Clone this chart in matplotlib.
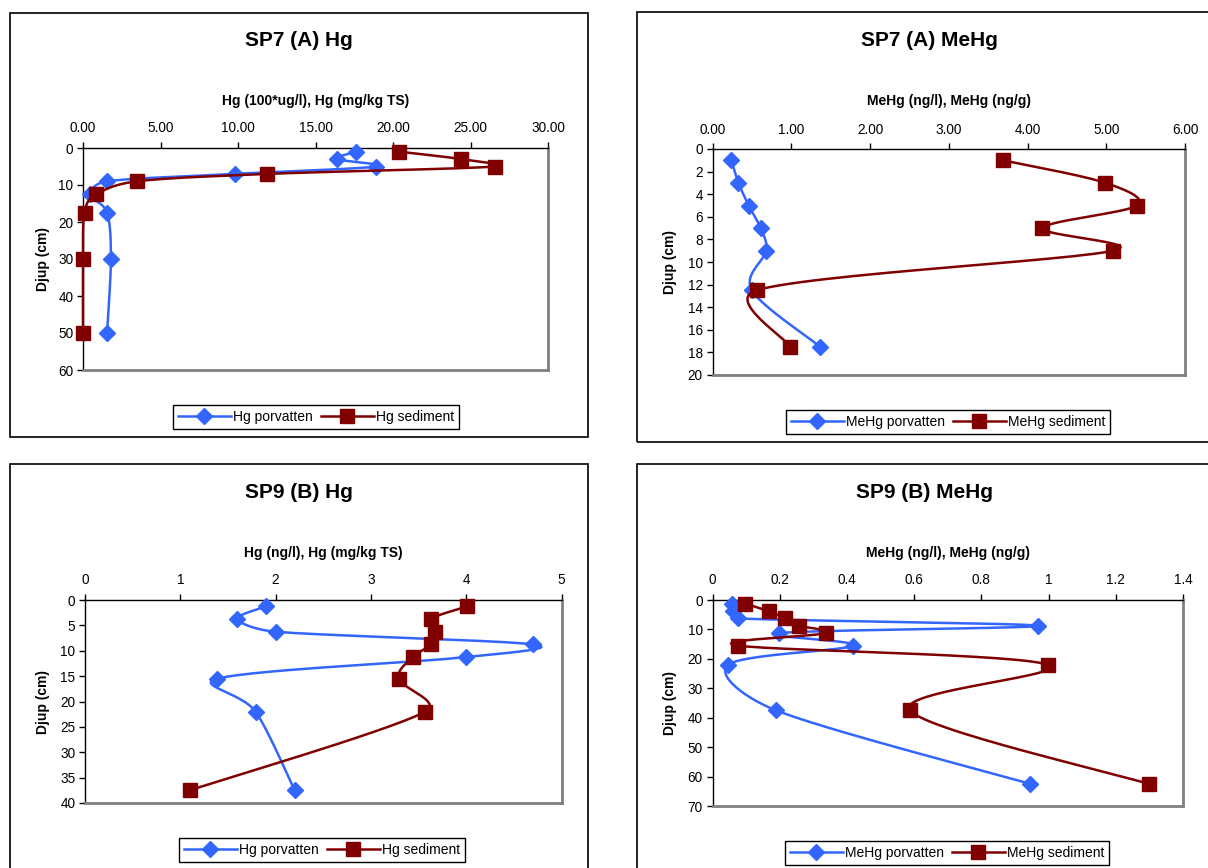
import matplotlib.pyplot as plt
import numpy as np
from matplotlib.patches import Rectangle
from matplotlib.lines import Line2D

plt.rcParams['font.family'] = ['Liberation Sans', 'DejaVu Sans']

W, H = 1208, 868
BLUE = '#3366ff'
RED = '#800000'

# SP7 (A) Hg
sp7_hg_depth = [1, 3, 5, 7, 9, 12.5, 17.5, 30, 50]
sp7_hg_por = [17.6, 16.4, 18.9, 9.8, 1.55, 0.45, 1.55, 1.8, 1.55]
sp7_hg_sed = [20.4, 24.4, 26.6, 11.9, 3.5, 0.87, 0.1, 0.0, 0.0]

# SP7 (A) MeHg
sp7_mehg_depth = [1, 3, 5, 7, 9, 12.5, 17.5]
sp7_mehg_por = [0.24, 0.33, 0.46, 0.61, 0.68, 0.5, 1.37]
sp7_mehg_sed = [3.69, 4.99, 5.39, 4.19, 5.09, 0.56, 0.99]

# SP9 (B) Hg
sp9_hg_depth = [1.25, 3.75, 6.25, 8.75, 11.25, 15.5, 22, 37.5]
sp9_hg_por = [1.9, 1.6, 2.0, 4.7, 4.0, 1.39, 1.79, 2.2]
sp9_hg_sed = [4.01, 3.63, 3.67, 3.63, 3.44, 3.29, 3.57, 1.1]

# SP9 (B) MeHg
sp9_mehg_depth = [1.25, 3.75, 6.25, 8.75, 11.25, 15.5, 22, 37.5, 62.5]
sp9_mehg_por = [0.058, 0.06, 0.076, 0.968, 0.198, 0.419, 0.047, 0.189, 0.946]
sp9_mehg_sed = [0.098, 0.167, 0.217, 0.258, 0.338, 0.077, 0.997, 0.587, 1.298]

sp7_hg_xticks = ['0.00', '5.00', '10.00', '15.00', '20.00', '25.00', '30.00']
sp7_mehg_xticks = ['0.00', '1.00', '2.00', '3.00', '4.00', '5.00', '6.00']
sp9_hg_xticks = ['0', '1', '2', '3', '4', '5']
sp9_mehg_xticks = ['0', '0.2', '0.4', '0.6', '0.8', '1', '1.2', '1.4']


def fx(x):
    return x / W


def fy(y):
    return 1 - y / H


def smooth(x, y, sx, sy, n=30):
    # Excel-like smoothed line: Bezier segments, control vectors limited
    p = np.column_stack([np.asarray(x, float) * sx, np.asarray(y, float) * sy])
    ext = np.vstack([p[0], p, p[-1]])
    t = np.linspace(0, 1, n)[1:, None]
    out = [p[0]]
    for i in range(len(p) - 1):
        p0, p1, p2, p3 = ext[i], ext[i + 1], ext[i + 2], ext[i + 3]
        d12 = np.hypot(*(p2 - p1))
        d02 = np.hypot(*(p2 - p0))
        d13 = np.hypot(*(p3 - p1))
        f0 = 1 / 6 if d02 / 6 < d12 / 2 or d02 == 0 else d12 / (2 * d02)
        f1 = 1 / 6 if d13 / 6 < d12 / 2 or d13 == 0 else d12 / (2 * d13)
        c1 = p1 + f0 * (p2 - p0)
        c2 = p2 - f1 * (p3 - p1)
        seg = (1 - t) ** 3 * p1 + 3 * (1 - t) ** 2 * t * c1 + 3 * (1 - t) * t ** 2 * c2 + t ** 3 * p2
        out.extend(seg)
    out = np.array(out)
    return out[:, 0] / sx, out[:, 1] / sy


panels = [
    dict(title='SP7 (A) Hg', xlabel='Hg (100*ug/l), Hg (mg/kg TS)',
         depth=sp7_hg_depth, por=sp7_hg_por, sed=sp7_hg_sed,
         xticks=np.arange(0, 31, 5), xticklabels=sp7_hg_xticks, ymax=60, ystep=10,
         names=('Hg porvatten', 'Hg sediment'),
         box=(10, 13, 588, 437), ax=(83, 148, 548, 370),
         title_xy=(299, 40), xlabel_y=101, ylabel_x=43, leg=(316, 417)),
    dict(title='SP7 (A) MeHg', xlabel='MeHg (ng/l), MeHg (ng/g)',
         depth=sp7_mehg_depth, por=sp7_mehg_por, sed=sp7_mehg_sed,
         xticks=np.arange(0, 7, 1), xticklabels=sp7_mehg_xticks, ymax=20, ystep=2,
         names=('MeHg porvatten', 'MeHg sediment'),
         box=(637, 12, 1222, 442), ax=(712.5, 149, 1185, 375),
         title_xy=(929, 40), xlabel_y=101, ylabel_x=670, leg=(948, 422)),
    dict(title='SP9 (B) Hg', xlabel='Hg (ng/l), Hg (mg/kg TS)',
         depth=sp9_hg_depth, por=sp9_hg_por, sed=sp9_hg_sed,
         xticks=np.arange(0, 6, 1), xticklabels=sp9_hg_xticks, ymax=40, ystep=5,
         names=('Hg porvatten', 'Hg sediment'),
         box=(10, 464, 588, 900), ax=(85, 600, 561.5, 803),
         title_xy=(299, 492), xlabel_y=553, ylabel_x=43, leg=(322, 850)),
    dict(title='SP9 (B) MeHg', xlabel='MeHg (ng/l), MeHg (ng/g)',
         depth=sp9_mehg_depth, por=sp9_mehg_por, sed=sp9_mehg_sed,
         xticks=np.arange(0, 1.41, 0.2), xticklabels=sp9_mehg_xticks, ymax=70, ystep=10,
         names=('MeHg porvatten', 'MeHg sediment'),
         box=(637, 464, 1222, 900), ax=(712.5, 600, 1183, 806),
         title_xy=(925, 492), xlabel_y=553, ylabel_x=670, leg=(947, 853)),
]

fig = plt.figure(figsize=(W / 100, H / 100), dpi=100)

for p in panels:
    bx0, by0, bx1, by1 = p['box']
    fig.patches.append(Rectangle((fx(bx0), fy(by1)), fx(bx1 - bx0), (by1 - by0) / H,
                                 transform=fig.transFigure, fill=False,
                                 edgecolor='black', linewidth=1.2))
    x0, y0, x1, y1 = p['ax']
    ax = fig.add_axes([fx(x0), fy(y1), fx(x1 - x0), (y1 - y0) / H])
    xmax = p['xticks'][-1]
    ax.set_xlim(0, xmax)
    ax.set_ylim(p['ymax'], 0)
    sx = (x1 - x0) / xmax
    sy = (y1 - y0) / p['ymax']

    cx, cy = smooth(p['por'], p['depth'], sx, sy)
    ax.plot(cx, cy, color=BLUE, lw=1.8, clip_on=False, zorder=3)
    ax.plot(p['por'], p['depth'], ls='none', marker='D', ms=8.5, color=BLUE,
            clip_on=False, zorder=4)
    cx, cy = smooth(p['sed'], p['depth'], sx, sy)
    ax.plot(cx, cy, color=RED, lw=1.8, clip_on=False, zorder=5)
    ax.plot(p['sed'], p['depth'], ls='none', marker='s', ms=10.5, color=RED,
            clip_on=False, zorder=6)

    ax.xaxis.tick_top()
    ax.set_xticks(p['xticks'])
    ax.set_xticklabels(p['xticklabels'])
    ax.set_yticks(np.arange(0, p['ymax'] + 1, p['ystep']))
    ax.tick_params(direction='out', length=4, width=1, labelsize=9.8, pad=3)
    ax.tick_params(axis='x', pad=5)
    for s in ['left', 'top']:
        ax.spines[s].set_color('black')
        ax.spines[s].set_linewidth(1)
    for s in ['right', 'bottom']:
        ax.spines[s].set_color('#808080')
        ax.spines[s].set_linewidth(2)

    fig.text(fx(p['title_xy'][0]), fy(p['title_xy'][1]), p['title'],
             ha='center', va='center', fontsize=15, fontweight='bold')
    fig.text(fx((x0 + x1) / 2), fy(p['xlabel_y']), p['xlabel'],
             ha='center', va='center', fontsize=10, fontweight='bold')
    fig.text(fx(p['ylabel_x']), fy((y0 + y1) / 2), 'Djup (cm)', rotation=90,
             ha='center', va='center', fontsize=10, fontweight='bold')

    handles = [Line2D([], [], color=BLUE, lw=1.8, marker='D', ms=8.5),
               Line2D([], [], color=RED, lw=1.8, marker='s', ms=10.5)]
    leg = fig.legend(handles, p['names'], loc='center',
                     bbox_to_anchor=(fx(p['leg'][0]), fy(p['leg'][1])),
                     ncol=2, fontsize=10, frameon=True, fancybox=False,
                     edgecolor='black', framealpha=1, handlelength=3.8,
                     handletextpad=0.15, columnspacing=0.6, borderpad=0.35,
                     borderaxespad=0)
    leg.get_frame().set_linewidth(1)

plt.savefig('out.png', dpi=100)
